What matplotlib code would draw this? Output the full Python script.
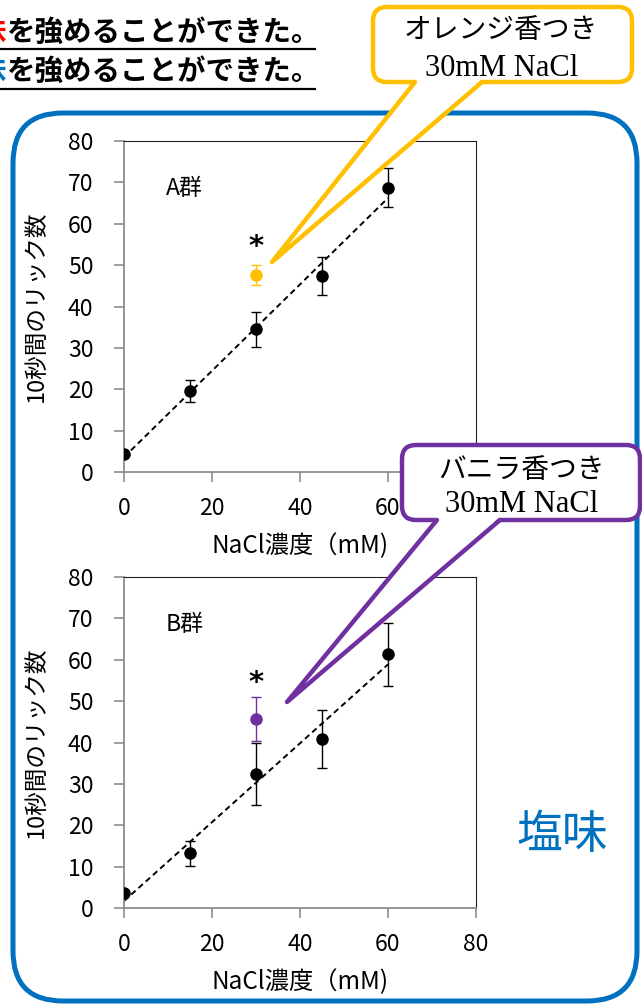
import matplotlib.pyplot as plt
import numpy as np
from matplotlib.patches import FancyBboxPatch, Polygon

plt.rcParams['font.family'] = ['Noto Sans CJK JP', 'DejaVu Sans']

# data
nacl = [0, 15, 30, 45, 60]
a_licks = [4.3, 19.6, 34.5, 47.4, 68.7]
a_err = [0.5, 2.6, 4.2, 4.6, 4.7]
a_orange = 47.6
a_orange_err = 2.4

b_licks = [3.6, 13.2, 32.5, 40.8, 61.3]
b_err = [0.5, 3.0, 7.5, 7.0, 7.6]
b_vanilla = 45.6
b_vanilla_err = 5.3

xticks = [0, 20, 40, 60, 80]
yticks = [0, 10, 20, 30, 40, 50, 60, 70, 80]

ORANGE = '#FFC000'
PURPLE = '#7030A0'
BLUE = '#0070C0'

W, H = 642, 1006
fig = plt.figure(figsize=(W / 100, H / 100), dpi=100)


def panel(top_px, ys, errs, fy, ferr, fcolor, name):
    ax = fig.add_axes([124 / W, 1 - (top_px + 331) / H, 352 / W, 331 / H])
    ax.set_xlim(0, 80)
    ax.set_ylim(0, 80)
    ax.set_xticks(xticks)
    ax.set_yticks(yticks)
    ax.tick_params(direction='out', length=7, width=1.2, color='#8c8c8c',
                   labelsize=16.5, pad=11)
    ax.tick_params(axis='y', pad=15)
    for s in ['left', 'bottom']:
        ax.spines[s].set_color('#8c8c8c')
        ax.spines[s].set_linewidth(1.3)
    for s in ['top', 'right']:
        ax.spines[s].set_color('#222222')
        ax.spines[s].set_linewidth(0.8)

    # linear trend line
    k, b = np.polyfit(nacl, ys, 1)
    xx = np.array([nacl[0], nacl[-1]])
    ax.plot(xx, k * xx + b, ls=(0, (3, 2)), color='k', lw=1.4, zorder=2)

    ax.errorbar(nacl, ys, yerr=errs, fmt='o', color='k', ms=8,
                ecolor='k', elinewidth=1, capsize=3.5, capthick=1, zorder=3)
    ax.errorbar([30], [fy], yerr=[ferr], fmt='o', color=fcolor, ms=8,
                ecolor=fcolor, elinewidth=1, capsize=3.5, capthick=1, zorder=3)
    ax.text(30, 54.5, '*', ha='center', va='center', fontsize=21,
            fontweight='bold', family='DejaVu Sans')
    ax.text(9.5, 68.5, name, ha='left', va='center', fontsize=16.5)

    ax.text(-0.25, 0.5, '10秒間のリック数', transform=ax.transAxes,
            rotation=90, ha='center', va='center', fontsize=17)
    ax.text(0.5, -0.225, 'NaCl濃度（mM)', transform=ax.transAxes,
            ha='center', va='center', fontsize=17.5)
    return ax


ax1 = panel(141, a_licks, a_err, a_orange, a_orange_err, ORANGE, 'A群')
ax2 = panel(577, b_licks, b_err, b_vanilla, b_vanilla_err, PURPLE, 'B群')
# the 80 label of the upper panel sits under the vanilla callout
ax1.get_xticklabels()[-1].set_visible(False)

# overlay in pixel coordinates for the slide decorations
ov = fig.add_axes([0, 0, 1, 1], zorder=10)
ov.set_xlim(0, W)
ov.set_ylim(H, 0)
ov.axis('off')
ov.patch.set_alpha(0)

ov.add_patch(FancyBboxPatch((13, 113), 624, 888,
                            boxstyle='round,pad=0,rounding_size=50',
                            fill=False, ec=BLUE, lw=3.6, zorder=1))
ov.text(562, 835, '塩味', color=BLUE, fontsize=33, ha='center', va='center')

# header lines (first character cut by the slide edge)
for yc, yu, col in [(33, 49, '#FF0000'), (72, 89, BLUE)]:
    ov.text(6, yc, '味', color=col, fontsize=20.5, fontweight='bold',
            ha='right', va='center')
    ov.text(7, yc, 'を強めることができた。', color='k', fontsize=20.5,
            fontweight='bold', ha='left', va='center')
    ov.plot([0, 315], [yu, yu], color='k', lw=1.6)


def callout(x0, y0, x1, y1, bl, br, tip, color, l1, l1x, l1y, l2x, l2y):
    ov.add_patch(FancyBboxPatch((x0, y0), x1 - x0, y1 - y0,
                                boxstyle='round,pad=0,rounding_size=14',
                                fc='white', ec=color, lw=3.2, zorder=5))
    ov.add_patch(Polygon([(bl, y1 - 3), tip, (br, y1 - 3)], closed=True,
                         fc='white', ec='none', zorder=6))
    ov.plot([bl, tip[0], br], [y1, tip[1], y1], color=color, lw=3.2,
            solid_joinstyle='round', solid_capstyle='round', zorder=7)
    ov.text(l1x, l1y, l1, fontsize=20, ha='center', va='center', zorder=8)
    ov.text(l2x, l2y, '30mM NaCl', fontsize=22, ha='center', va='center',
            family=['Liberation Serif', 'DejaVu Serif'], zorder=8)


callout(373, 7, 632, 82, 415, 482, (272, 262), ORANGE,
        'オレンジ香つき', 501, 30, 502, 68)
callout(402, 445, 640, 520, 437, 500, (287, 702), PURPLE,
        'バニラ香つき', 521, 470, 522, 505)

fig.savefig('out.png', dpi=100)
